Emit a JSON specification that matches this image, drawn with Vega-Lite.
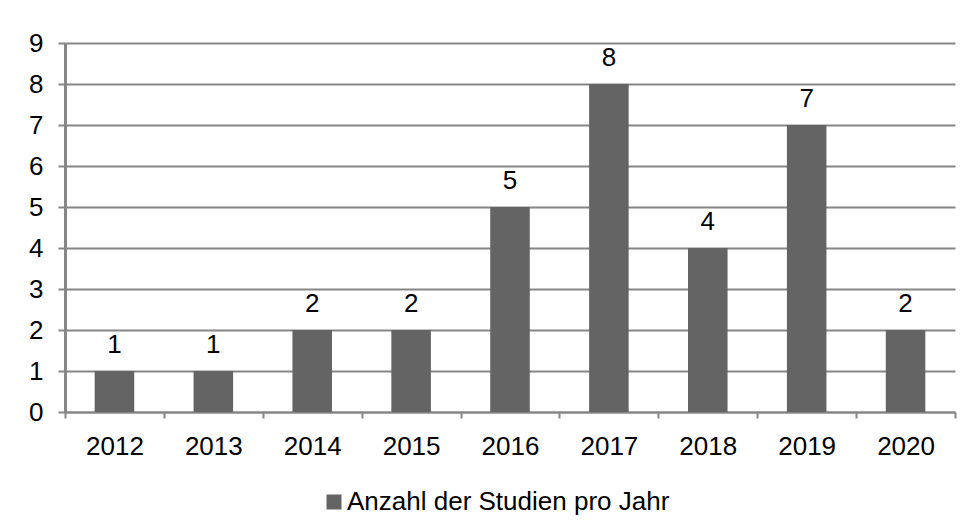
{
  "$schema": "https://vega.github.io/schema/vega-lite/v6.json",
  "autosize": {"type": "none"},
  "width": 890,
  "height": 369,
  "padding": {"left": 65, "top": 43, "right": 18, "bottom": 117},
  "background": "white",
  "data": {"values": [
    {"Jahr": "2012", "Anzahl": 1},
    {"Jahr": "2013", "Anzahl": 1},
    {"Jahr": "2014", "Anzahl": 2},
    {"Jahr": "2015", "Anzahl": 2},
    {"Jahr": "2016", "Anzahl": 5},
    {"Jahr": "2017", "Anzahl": 8},
    {"Jahr": "2018", "Anzahl": 4},
    {"Jahr": "2019", "Anzahl": 7},
    {"Jahr": "2020", "Anzahl": 2}
  ]},
  "encoding": {
    "x": {
      "field": "Jahr", "type": "nominal", "title": null,
      "scale": {"paddingInner": 0, "paddingOuter": 0},
      "axis": {
        "labelAngle": 0, "tickBand": "extent", "tickSize": 6, "tickColor": "#868686", "tickWidth": 2,
        "domainColor": "#868686", "domainWidth": 2, "labelFontSize": 26, "labelColor": "#000000",
        "labelPadding": 15, "grid": false
      }
    },
    "y": {
      "field": "Anzahl", "type": "quantitative", "title": null,
      "scale": {"domain": [0, 9], "nice": false},
      "axis": {
        "values": [0, 1, 2, 3, 4, 5, 6, 7, 8, 9], "tickSize": 7, "tickColor": "#868686", "tickWidth": 2,
        "domainColor": "#868686", "domainWidth": 3, "gridColor": "#868686", "gridWidth": 2,
        "labelFontSize": 26, "labelColor": "#000000", "labelPadding": 15
      }
    }
  },
  "layer": [
    {
      "mark": {"type": "bar", "width": {"band": 0.4}},
      "encoding": {
        "color": {
          "datum": "Anzahl der Studien pro Jahr",
          "type": "nominal",
          "scale": {"range": ["#646464"]},
          "legend": {
            "title": null, "orient": "none", "legendX": 256, "legendY": 446,
            "symbolType": "square", "symbolSize": 225, "labelLimit": 0, "labelOffset": 0,
            "labelFontSize": 26, "labelColor": "#000000", "symbolStrokeWidth": 0
          }
        }
      }
    },
    {
      "mark": {"type": "text", "baseline": "alphabetic", "dy": -18, "fontSize": 26, "color": "#000000"},
      "encoding": {"text": {"field": "Anzahl", "type": "quantitative"}}
    }
  ],
  "config": {
    "font": "Liberation Sans",
    "view": {"stroke": null},
    "axis": {"labelFont": "Liberation Sans"},
    "legend": {"labelFont": "Liberation Sans"}
  }
}
